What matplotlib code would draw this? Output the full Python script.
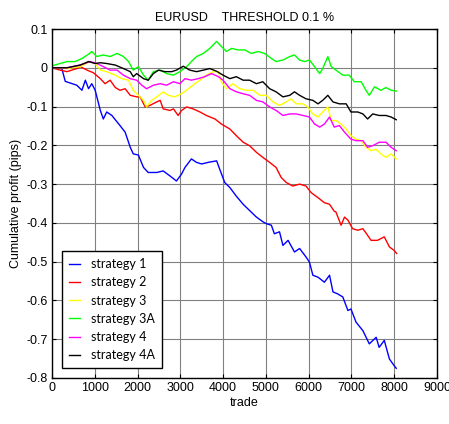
import matplotlib
matplotlib.use("Agg")
import matplotlib.pyplot as plt

# ---- data ----
s1_x = [0, 230, 310, 580, 700, 780, 855, 930, 1010, 1130, 1200, 1280, 1400, 1590, 1710, 1830, 1900, 2020,
        2140, 2250, 2450, 2600, 2760, 2910, 3030, 3110, 3260, 3380, 3500, 3650, 3850, 3920, 4040, 4160,
        4310, 4470, 4620, 4780, 4930, 5010, 5130, 5200, 5320, 5400, 5520, 5670, 5790, 5940, 6020, 6100,
        6220, 6370, 6490, 6570, 6680, 6800, 6920, 6990, 7110, 7270, 7420, 7580, 7650, 7770, 7890, 8000, 8050]
s1_y = [0, -0.002, -0.035, -0.045, -0.058, -0.032, -0.054, -0.041, -0.058, -0.11, -0.132, -0.114, -0.123,
        -0.149, -0.166, -0.205, -0.222, -0.225, -0.257, -0.27, -0.27, -0.266, -0.279, -0.292, -0.274,
        -0.257, -0.235, -0.244, -0.248, -0.244, -0.24, -0.261, -0.296, -0.309, -0.331, -0.352, -0.368,
        -0.385, -0.397, -0.402, -0.406, -0.428, -0.423, -0.458, -0.445, -0.475, -0.466, -0.488, -0.501,
        -0.535, -0.54, -0.553, -0.535, -0.578, -0.583, -0.591, -0.626, -0.622, -0.656, -0.678, -0.712,
        -0.695, -0.721, -0.703, -0.751, -0.768, -0.775]

s2_x = [0, 190, 350, 580, 660, 820, 970, 1130, 1240, 1360, 1480, 1590, 1710, 1830, 1980, 2060, 2180, 2290,
        2450, 2530, 2600, 2760, 2840, 2950, 3030, 3150, 3300, 3460, 3610, 3810, 3960, 4160, 4310, 4470,
        4620, 4780, 4930, 5090, 5240, 5360, 5480, 5630, 5790, 5940, 6060, 6220, 6370, 6490, 6600, 6640,
        6760, 6840, 6920, 7030, 7150, 7270, 7380, 7460, 7610, 7770, 7890, 8000, 8060]
s2_y = [0, -0.006, -0.01, -0.002, 0.003, -0.006, -0.013, -0.028, -0.041, -0.032, -0.051, -0.058, -0.054,
        -0.071, -0.075, -0.075, -0.101, -0.097, -0.088, -0.084, -0.106, -0.11, -0.106, -0.123, -0.11,
        -0.101, -0.106, -0.114, -0.123, -0.132, -0.145, -0.158, -0.175, -0.192, -0.201, -0.218, -0.231,
        -0.244, -0.257, -0.283, -0.296, -0.305, -0.3, -0.305, -0.322, -0.335, -0.348, -0.352, -0.37,
        -0.372, -0.406, -0.385, -0.393, -0.415, -0.419, -0.415, -0.432, -0.445, -0.445, -0.436, -0.462,
        -0.471, -0.479]

s3_x = [0, 350, 660, 890, 1010, 1130, 1280, 1480, 1630, 1790, 1900, 2020, 2140, 2210, 2330, 2450, 2600,
        2720, 2870, 3030, 3190, 3340, 3460, 3610, 3770, 3890, 3960, 4080, 4230, 4390, 4550, 4700, 4860,
        5010, 5170, 5320, 5480, 5590, 5710, 5870, 5980, 6100, 6220, 6330, 6450, 6530, 6640, 6760, 6880,
        6990, 7110, 7230, 7340, 7460, 7580, 7690, 7810, 7930, 8050]
s3_y = [0, -0.002, 0.003, 0.016, 0.011, -0.006, -0.01, -0.019, -0.028, -0.032, -0.058, -0.071, -0.084,
        -0.101, -0.084, -0.075, -0.062, -0.071, -0.075, -0.067, -0.054, -0.041, -0.032, -0.019, -0.01,
        -0.01, -0.036, -0.054, -0.041, -0.054, -0.058, -0.058, -0.071, -0.071, -0.088, -0.097, -0.088,
        -0.08, -0.093, -0.093, -0.101, -0.119, -0.127, -0.114, -0.101, -0.136, -0.136, -0.145, -0.158,
        -0.175, -0.184, -0.188, -0.205, -0.214, -0.21, -0.222, -0.231, -0.222, -0.235]

s3a_x = [0, 190, 350, 540, 700, 855, 930, 1050, 1200, 1360, 1520, 1670, 1790, 1900, 2020, 2140, 2250, 2370,
         2530, 2680, 2840, 2990, 3150, 3260, 3380, 3540, 3690, 3850, 3960, 4080, 4200, 4350, 4510, 4660,
         4820, 4970, 5130, 5240, 5400, 5560, 5670, 5790, 5910, 6020, 6140, 6260, 6330, 6450, 6530, 6640,
         6800, 6950, 7070, 7230, 7340, 7420, 7540, 7690, 7810, 7930, 8050]
s3a_y = [0.005, 0.011, 0.016, 0.016, 0.024, 0.035, 0.042, 0.029, 0.033, 0.029, 0.037, 0.029, 0.016, -0.006,
         0.003, -0.019, -0.032, -0.01, -0.006, -0.015, -0.019, -0.01, 0.003, 0.016, 0.029, 0.037, 0.05,
         0.068, 0.055, 0.042, 0.05, 0.046, 0.046, 0.037, 0.042, 0.037, 0.024, 0.016, 0.02, 0.029, 0.033,
         0.02, 0.016, 0.02, 0.003, -0.015, -0.002, 0.029, 0.003, -0.006, -0.019, -0.019, -0.036, -0.036,
         -0.058, -0.071, -0.049, -0.058, -0.051, -0.058, -0.06]

s4_x = [0, 350, 660, 890, 1050, 1200, 1360, 1520, 1670, 1830, 1980, 2100, 2210, 2370, 2530, 2680, 2840,
        2990, 3110, 3260, 3420, 3570, 3730, 3890, 4000, 4160, 4310, 4470, 4620, 4780, 4930, 5090, 5240,
        5400, 5560, 5710, 5870, 6020, 6140, 6260, 6370, 6490, 6600, 6720, 6840, 6990, 7110, 7270, 7380,
        7500, 7650, 7810, 7930, 8050]
s4_y = [0, 0.0, 0.007, 0.016, 0.011, 0.003, -0.006, -0.006, -0.019, -0.028, -0.032, -0.045, -0.054, -0.045,
        -0.041, -0.045, -0.036, -0.041, -0.028, -0.032, -0.028, -0.023, -0.015, -0.023, -0.032, -0.054,
        -0.062, -0.067, -0.071, -0.084, -0.088, -0.101, -0.11, -0.123, -0.119, -0.119, -0.123, -0.127,
        -0.145, -0.153, -0.145, -0.127, -0.153, -0.149, -0.166, -0.184, -0.188, -0.188, -0.205, -0.201,
        -0.192, -0.192, -0.205, -0.214]

s4a_x = [0, 350, 660, 855, 1010, 1130, 1280, 1480, 1670, 1830, 1900, 1980, 2140, 2250, 2370, 2490, 2640,
         2800, 2910, 3070, 3220, 3380, 3540, 3690, 3850, 4000, 4160, 4310, 4470, 4620, 4780, 4930, 5090,
         5240, 5400, 5560, 5670, 5790, 5940, 6100, 6220, 6330, 6450, 6570, 6720, 6880, 6990, 7150, 7270,
         7380, 7500, 7650, 7810, 7930, 8050]
s4a_y = [0, 0.0, 0.007, 0.016, 0.011, 0.013, 0.011, 0.007, -0.002, -0.01, -0.023, -0.015, -0.028, -0.032,
         -0.015, -0.006, -0.01, -0.01, -0.006, 0.004, -0.006, -0.01, -0.006, -0.002, -0.009, -0.019,
         -0.028, -0.023, -0.032, -0.032, -0.041, -0.036, -0.054, -0.062, -0.075, -0.071, -0.062, -0.071,
         -0.08, -0.084, -0.093, -0.084, -0.071, -0.088, -0.093, -0.093, -0.114, -0.114, -0.119, -0.132,
         -0.119, -0.123, -0.123, -0.127, -0.134]

labels = ["strategy 1", "strategy 2", "strategy 3", "strategy 3A", "strategy 4", "strategy 4A"]
colors = ["#0000ff", "#ff0000", "#ffff00", "#00ff00", "#ff00ff", "#000000"]
xticks = [0, 1000, 2000, 3000, 4000, 5000, 6000, 7000, 8000, 9000]
yticks = [0.1, 0, -0.1, -0.2, -0.3, -0.4, -0.5, -0.6, -0.7, -0.8]
ytick_labels = ["0.1", "0", "-0.1", "-0.2", "-0.3", "-0.4", "-0.5", "-0.6", "-0.7", "-0.8"]

series = [(s1_x, s1_y), (s2_x, s2_y), (s3_x, s3_y), (s3a_x, s3a_y), (s4_x, s4_y), (s4a_x, s4a_y)]

plt.rcParams['font.family'] = ['Liberation Sans', 'DejaVu Sans']

fig = plt.figure(figsize=(4.49, 4.24), dpi=100)
ax = fig.add_axes([0.1158, 0.1085, 0.973 - 0.1158, 0.9316 - 0.1085])

for (xs, ys), lab, c in zip(series, labels, colors):
    ax.plot(xs, ys, color=c, lw=1.0, label=lab)

ax.set_xlim(0, 9000)
ax.set_ylim(-0.8, 0.1)
ax.set_xticks(xticks)
ax.set_xticklabels([str(t) for t in xticks], fontsize=9)
ax.set_yticks(yticks)
ax.set_yticklabels(ytick_labels, fontsize=9)
ax.grid(True, color="#808080", lw=0.8, ls="-")
ax.set_axisbelow(True)
ax.tick_params(direction="in", top=True, right=True, length=3, width=0.8, pad=3)
for sp in ax.spines.values():
    sp.set_linewidth(1.0)
    sp.set_color("black")

ax.set_title("EURUSD    THRESHOLD 0.1 %", fontsize=9, pad=6)
ax.set_xlabel("trade", fontsize=9, labelpad=2)
ax.set_ylabel("Cumulative profit (pips)", fontsize=9, labelpad=3)

leg = ax.legend(loc="lower left", bbox_to_anchor=(0.026, 0.028), frameon=True, fancybox=False,
                edgecolor="black", framealpha=1, handlelength=0.9, handletextpad=0.85,
                labelspacing=0.5, borderpad=0.55, borderaxespad=0,
                prop={"family": ["Lato", "DejaVu Sans"], "size": 9})
leg.get_frame().set_linewidth(1.0)

fig.savefig("out.png", dpi=100)
